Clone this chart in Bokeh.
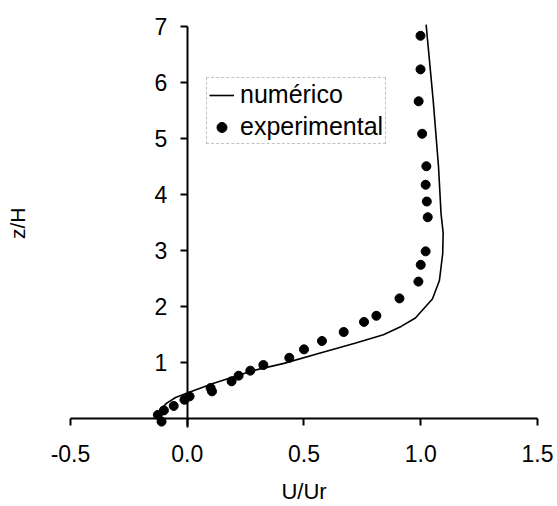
from bokeh.plotting import figure
from bokeh.models import LinearAxis, FixedTicker, Legend, LegendItem, Label
from bokeh.embed import file_html
from bokeh.resources import INLINE

# ---- data ----
exp_u = [-0.11, -0.126, -0.10, -0.058, -0.012, 0.01, 0.10, 0.106, 0.19, 0.22, 0.27, 0.326,
         0.437, 0.50, 0.577, 0.67, 0.757, 0.81, 0.909, 0.99, 1.00, 1.021, 1.030, 1.026,
         1.021, 1.024, 1.006, 0.991, 0.999, 0.999]
exp_z = [-0.05, 0.07, 0.15, 0.23, 0.34, 0.40, 0.55, 0.49, 0.67, 0.77, 0.86, 0.96,
         1.09, 1.24, 1.39, 1.55, 1.73, 1.84, 2.15, 2.45, 2.75, 2.99, 3.60, 3.88,
         4.18, 4.51, 5.09, 5.67, 6.24, 6.84]

num_u = [-0.14, -0.119, -0.088, -0.05, 0.0, 0.11, 0.28, 0.414, 0.566, 0.718, 0.84, 0.916,
         0.977, 1.05, 1.08, 1.094, 1.096, 1.087, 1.076, 1.053, 1.023]
num_z = [0.06, 0.14, 0.28, 0.38, 0.46, 0.63, 0.86, 0.99, 1.17, 1.35, 1.50, 1.65,
         1.80, 2.14, 2.47, 2.95, 3.32, 3.66, 4.51, 5.70, 7.04]

x_ticks = [-0.5, 0.0, 0.5, 1.0, 1.5]
x_tick_labels = ["-0.5", "0.0", "0.5", "1.0", "1.5"]
y_ticks = [1, 2, 3, 4, 5, 6, 7]
x_title = "U/Ur"
y_title = "z/H"

FONT = "Liberation Sans"
W, H = 557, 506

# the frame fills the whole canvas; ranges chosen so the axes sit where the reference has them
p = figure(width=W, height=H, x_range=(-0.7998, 1.5857), y_range=(-1.566, 7.47),
           output_backend="svg", toolbar_location=None,
           x_axis_location=None, y_axis_location=None, min_border=0)
p.outline_line_color = None
p.xgrid.visible = False
p.ygrid.visible = False
p.background_fill_color = "white"
p.border_fill_color = "white"

xaxis = LinearAxis(fixed_location=0, ticker=FixedTicker(ticks=x_ticks),
                   major_label_overrides={t: l for t, l in zip(x_ticks, x_tick_labels)},
                   bounds=(-0.5, 1.5))
yaxis = LinearAxis(fixed_location=0, ticker=FixedTicker(ticks=y_ticks), bounds=(-0.15, 7))
for ax in (xaxis, yaxis):
    ax.axis_line_width = 2
    ax.axis_line_color = "black"
    ax.major_tick_line_width = 2
    ax.major_tick_line_color = "black"
    ax.major_tick_in = 0
    ax.major_tick_out = 7
    ax.minor_tick_line_color = None
    ax.major_label_text_font = FONT
    ax.major_label_text_font_size = "23px"
    ax.major_label_text_color = "black"
xaxis.major_label_standoff = 19
yaxis.major_label_standoff = 13
p.add_layout(xaxis, "below")
p.add_layout(yaxis, "left")

r_line = p.line(num_u, num_z, line_color="black", line_width=1.6)
r_pts = p.scatter(exp_u, exp_z, size=9, fill_color="black", line_color="black")

legend = Legend(items=[LegendItem(label="numérico", renderers=[r_line]),
                       LegendItem(label="experimental", renderers=[r_pts])],
                location=(206, 362))
legend.label_text_font = FONT
legend.label_text_font_size = "25px"
legend.label_text_color = "black"
legend.label_height = 26
legend.glyph_height = 26
legend.glyph_width = 25
legend.label_standoff = 6
legend.spacing = 3
legend.padding = 2
legend.margin = 0
legend.border_line_color = "#999999"
legend.border_line_dash = "4 3"
legend.border_line_alpha = 0.6
legend.background_fill_alpha = 0
p.add_layout(legend, "center")

p.add_layout(Label(x=0.5, y=-1.30, text=x_title,
                   text_font=FONT, text_font_size="22px", text_align="center",
                   text_baseline="middle", text_color="black"))
p.add_layout(Label(x=-0.7268, y=3.49, text=y_title,
                   angle=1.5708, text_font=FONT, text_font_size="21px", text_align="center",
                   text_baseline="middle", text_color="black"))

open("out.html", "w").write(file_html(p, INLINE))
